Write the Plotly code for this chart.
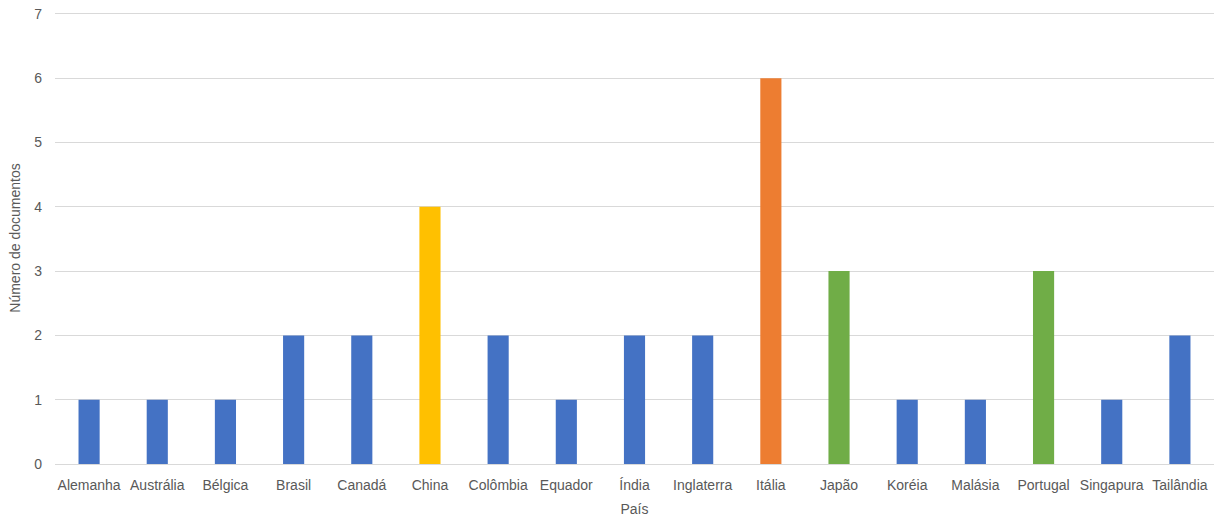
import plotly.graph_objects as go

paises = ["Alemanha", "Austrália", "Bélgica", "Brasil", "Canadá", "China", "Colômbia",
          "Equador", "Índia", "Inglaterra", "Itália", "Japão", "Koréia", "Malásia",
          "Portugal", "Singapura", "Tailândia"]
documentos = [1, 1, 1, 2, 2, 4, 2, 1, 2, 2, 6, 3, 1, 1, 3, 1, 2]
cores = ["#4472C4", "#4472C4", "#4472C4", "#4472C4", "#4472C4", "#FFC000", "#4472C4",
         "#4472C4", "#4472C4", "#4472C4", "#ED7D31", "#70AD47", "#4472C4", "#4472C4",
         "#70AD47", "#4472C4", "#4472C4"]

fig = go.Figure(go.Bar(x=paises, y=documentos, marker=dict(color=cores, line=dict(width=0)),
                       width=0.31))

fs = 14
fig.update_layout(
    width=1219, height=517,
    margin=dict(l=55, r=5, t=12, b=53),
    plot_bgcolor="white", paper_bgcolor="white",
    font=dict(family="Liberation Sans, Arial, sans-serif", size=fs, color="#595959"),
    showlegend=False,
    xaxis=dict(title=dict(text="País", font=dict(size=fs, color="#595959"), standoff=12),
               automargin=False,
               showgrid=False, showline=True, linecolor="#D9D9D9", linewidth=1,
               ticks="", ticklabelstandoff=8, tickfont=dict(size=fs, color="#595959")),
    yaxis=dict(title=dict(text="Número de documentos", font=dict(size=fs, color="#595959"), standoff=10),
               range=[0, 7.03], dtick=1, showgrid=True, gridcolor="#D9D9D9", gridwidth=1,
               zeroline=False, ticks="", ticklabelstandoff=12, tickfont=dict(size=fs, color="#595959")),
)

fig.write_html("out.html")
